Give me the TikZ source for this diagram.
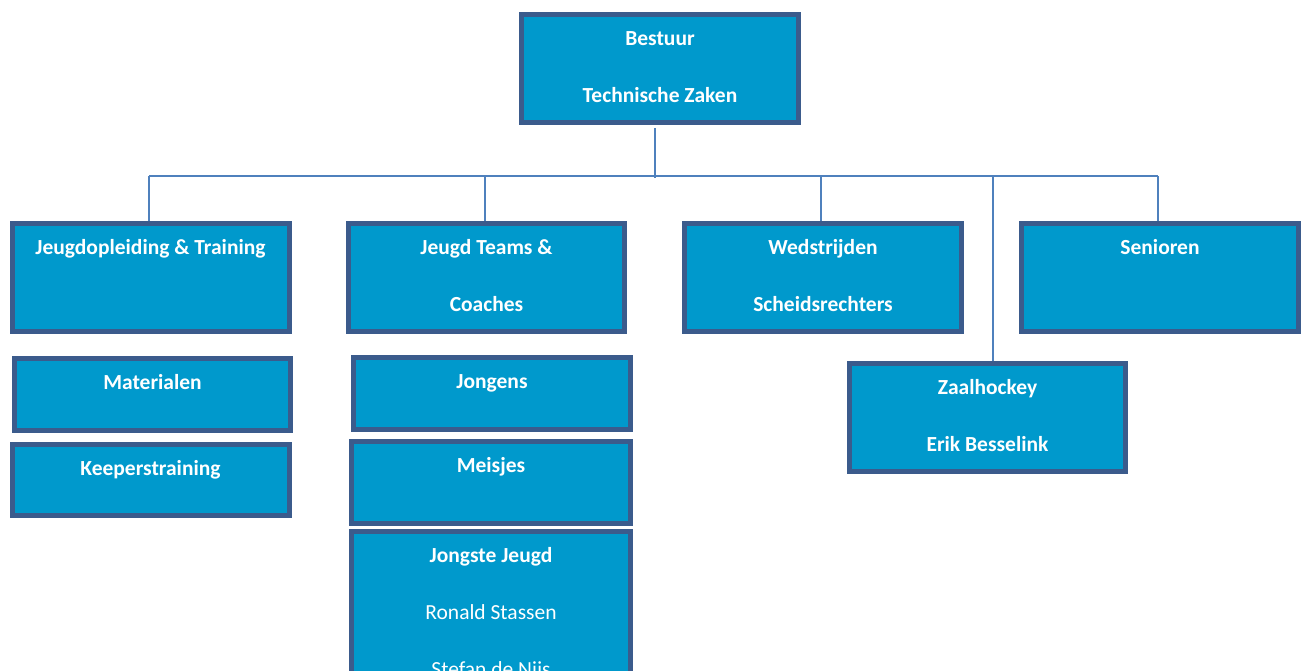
\documentclass[tikz,border=0pt]{standalone}
\usepackage{fontspec}
\setmainfont{Carlito}
\usetikzlibrary{backgrounds}
\definecolor{boxfill}{RGB}{0,153,204}
\definecolor{boxline}{RGB}{59,91,140}
\definecolor{connline}{RGB}{79,129,189}
\tikzset{
  orgbox/.style={draw=boxline, fill=boxfill, line width=5pt, rectangle, inner sep=0pt, outer sep=0pt},
  lbl/.style={anchor=base, text=white, font=\fontsize{21.5}{26}\selectfont\bfseries, inner sep=0pt},
  lblreg/.style={anchor=base, text=white, font=\fontsize{21.5}{26}\selectfont, inner sep=0pt},
  conn/.style={draw=connline, line width=2pt}
}
\begin{document}
\begin{tikzpicture}[x=1pt,y=-1pt]
\useasboundingbox (0,0) rectangle (1306,670);
\clip (0,0) rectangle (1306,670);
% boxes
\node[orgbox, minimum width=277pt, minimum height=108pt] (bestuur) at (660,68.5) {};
\node[orgbox, minimum width=277pt, minimum height=108pt] (jop) at (150.5,277.5) {};
\node[orgbox, minimum width=276pt, minimum height=108pt] (jtc) at (486.5,277.5) {};
\node[orgbox, minimum width=277pt, minimum height=108pt] (wed) at (823,277.5) {};
\node[orgbox, minimum width=277pt, minimum height=108pt] (sen) at (1160,277.5) {};
\node[orgbox, minimum width=276pt, minimum height=72pt] (mat) at (152.5,394) {};
\node[orgbox, minimum width=277pt, minimum height=71pt] (kee) at (150.5,479.5) {};
\node[orgbox, minimum width=277pt, minimum height=72pt] (jon) at (492,393.5) {};
\node[orgbox, minimum width=279pt, minimum height=82pt] (mei) at (491,482.5) {};
\node[orgbox, minimum width=279pt, minimum height=206pt] (jj) at (491,634.5) {};
\node[orgbox, minimum width=276pt, minimum height=108pt] (zaal) at (987.5,417.5) {};
% connectors
\coordinate (hub) at (655,176);
\coordinate (hubleft) at (149,176);
\coordinate (hubright) at (1158,176);
\begin{scope}[on background layer]
\fill[white] (0,0) rectangle (1306,670);
\draw[conn] ([xshift=-5pt,yshift=-5.5pt]bestuur.south) -- ([yshift=-1.5pt]hub);
\draw[conn] (hubleft) -- (hubright);
\draw[conn] (hubleft) -- (hubleft |- jop.north);
\draw[conn] (485,176) -- (485,176 |- jtc.north);
\draw[conn] (821,176) -- (821,176 |- wed.north);
\draw[conn] (hubright) -- (hubright |- sen.north);
\draw[conn] (993,176) -- (993,176 |- zaal.north);
\end{scope}
% labels
\node[lbl] (t1) at ([yshift=-31pt]bestuur.north) {Bestuur};
\node[lbl] (t2) at ([yshift=-88pt]bestuur.north) {Technische Zaken};
\node[lbl] (t3) at ([yshift=-31pt]jop.north) {Jeugdopleiding \& Training};
\node[lbl] (t4) at ([yshift=-31pt]jtc.north) {Jeugd Teams \&};
\node[lbl] (t5) at ([yshift=-88pt]jtc.north) {Coaches};
\node[lbl] (t6) at ([yshift=-31pt]wed.north) {Wedstrijden};
\node[lbl] (t7) at ([yshift=-88pt]wed.north) {Scheidsrechters};
\node[lbl] (t8) at ([yshift=-31pt]sen.north) {Senioren};
\node[lbl] (t9) at ([yshift=-31pt]mat.north) {Materialen};
\node[lbl] (t10) at ([yshift=-31pt]kee.north) {Keeperstraining};
\node[lbl] (t11) at ([yshift=-31pt]jon.north) {Jongens};
\node[lbl] (t12) at ([yshift=-31pt]mei.north) {Meisjes};
\node[lbl] (t13) at ([yshift=-31pt]jj.north) {Jongste Jeugd};
\node[lblreg] (t14) at ([yshift=-88pt]jj.north) {Ronald Stassen};
\node[lblreg] (t15) at ([yshift=-145pt]jj.north) {Stefan de Nijs};
\node[lbl] (t16) at ([yshift=-31pt]zaal.north) {Zaalhockey};
\node[lbl] (t17) at ([yshift=-88pt]zaal.north) {Erik Besselink};
\end{tikzpicture}
\end{document}
